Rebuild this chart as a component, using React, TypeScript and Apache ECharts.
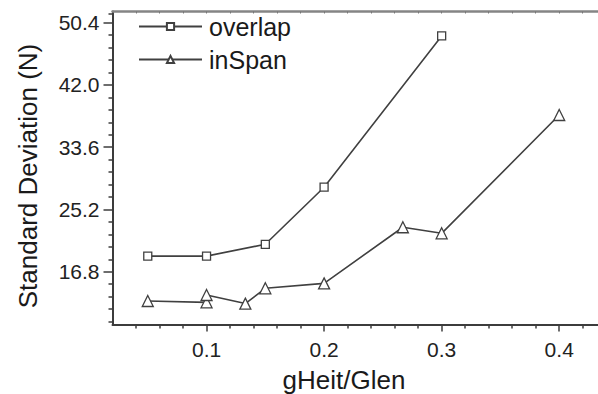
import React, { useEffect, useRef } from "react";
import * as echarts from "echarts";

// Data
const overlapX = [0.05, 0.1, 0.15, 0.2, 0.3];
const overlapY = [18.9, 18.9, 20.5, 28.2, 48.6];

const inSpanX = [0.05, 0.1, 0.1, 0.133, 0.15, 0.2, 0.267, 0.3, 0.4];
const inSpanY = [12.85, 12.67, 13.66, 12.5, 14.56, 15.23, 22.8, 21.98, 37.94];

const seriesNames = ["overlap", "inSpan"];

// Axis ticks
const yMajorTicks = [16.8, 25.2, 33.6, 42.0, 50.4];
const yMinorTicks = [
  10.08, 11.76, 13.44, 15.12,
  18.48, 20.16, 21.84, 23.52,
  26.88, 28.56, 30.24, 31.92,
  35.28, 36.96, 38.64, 40.32,
  43.68, 45.36, 47.04, 48.72,
  51.66,
];
const xMajorTicks = [0.1, 0.2, 0.3, 0.4];
const xMinorTicks = [
  0.04, 0.06, 0.08,
  0.12, 0.14, 0.16, 0.18,
  0.22, 0.24, 0.26, 0.28,
  0.32, 0.34, 0.36, 0.38,
  0.42,
];

const xTitle = "gHeit/Glen";
const yTitle = "Standard Deviation (N)";

const X_MIN = 0.02;
const X_MAX = 0.433;
const Y_MIN = 9.68;
const Y_MAX = 51.9;

const FONT = "'Liberation Sans', Arial, sans-serif";
const AXIS_COLOR = "#3c3c3c";
const LINE_COLOR = "#404040";

export default function App() {
  const ref = useRef<HTMLDivElement>(null);

  useEffect(() => {
    if (!ref.current) return;
    const chart = echarts.init(ref.current, null, { renderer: "svg" });

    const pairs = (xs: number[], ys: number[]) => xs.map((x, i) => [x, ys[i]]);

    const option: any = {
      animation: false,
      backgroundColor: "#ffffff",
      textStyle: { fontFamily: FONT },
      grid: { left: 112.5, right: 0, top: 11.5, bottom: 69.5, containLabel: false },
      legend: {
        orient: "vertical",
        left: 138,
        top: 14,
        padding: 0,
        itemWidth: 63,
        itemHeight: 9,
        itemGap: 8,
        data: seriesNames,
        textStyle: { fontSize: 25, color: "#1a1a1a", fontFamily: FONT, padding: [0, 0, 0, 2] },
      },
      xAxis: [
        {
          type: "value",
          position: "bottom",
          min: X_MIN,
          max: X_MAX,
          axisLine: { show: true, onZero: false, lineStyle: { color: AXIS_COLOR, width: 2 } },
          axisTick: {
            show: true,
            inside: false,
            length: 7,
            customValues: xMajorTicks,
            lineStyle: { color: AXIS_COLOR, width: 1.5 },
          },
          axisLabel: {
            show: true,
            customValues: xMajorTicks,
            margin: 14,
            fontSize: 21,
            color: "#222",
            fontFamily: FONT,
            formatter: (v: number) => String(v),
          },
          splitLine: { show: false },
        },
        {
          type: "value",
          position: "bottom",
          min: X_MIN,
          max: X_MAX,
          axisLine: { show: false },
          axisTick: {
            show: true,
            inside: false,
            length: 4,
            customValues: xMinorTicks,
            lineStyle: { color: AXIS_COLOR, width: 1.5 },
          },
          axisLabel: { show: false },
          splitLine: { show: false },
        },
        {
          type: "value",
          position: "top",
          min: X_MIN,
          max: X_MAX,
          axisLine: { show: true, onZero: false, lineStyle: { color: "#858585", width: 2.5 } },
          axisTick: {
            show: true,
            inside: true,
            length: 2,
            customValues: [...xMinorTicks, ...xMajorTicks],
            lineStyle: { color: "#777", width: 1 },
          },
          axisLabel: { show: false },
          splitLine: { show: false },
        },
      ],
      yAxis: [
        {
          type: "value",
          position: "left",
          min: Y_MIN,
          max: Y_MAX,
          axisLine: { show: true, onZero: false, lineStyle: { color: AXIS_COLOR, width: 2 } },
          axisTick: {
            show: true,
            inside: false,
            length: 9,
            customValues: yMajorTicks,
            lineStyle: { color: AXIS_COLOR, width: 1.5 },
          },
          axisLabel: {
            show: true,
            customValues: yMajorTicks,
            margin: 13,
            fontSize: 21,
            color: "#222",
            fontFamily: FONT,
            formatter: (v: number) => v.toFixed(1),
          },
          splitLine: { show: false },
        },
        {
          type: "value",
          position: "left",
          min: Y_MIN,
          max: Y_MAX,
          axisLine: { show: false },
          axisTick: {
            show: true,
            inside: false,
            length: 4,
            customValues: yMinorTicks,
            lineStyle: { color: AXIS_COLOR, width: 1.5 },
          },
          axisLabel: { show: false },
          splitLine: { show: false },
        },
      ],
      graphic: [
        {
          type: "text",
          x: 344,
          y: 380,
          style: {
            text: xTitle,
            fontSize: 26,
            fontFamily: FONT,
            fill: "#1a1a1a",
            align: "center",
            verticalAlign: "middle",
          },
        },
        {
          type: "text",
          x: 28,
          y: 176,
          rotation: Math.PI / 2,
          style: {
            text: yTitle,
            fontSize: 26,
            fontFamily: FONT,
            fill: "#1a1a1a",
            align: "center",
            verticalAlign: "middle",
          },
        },
      ],
      series: [
        {
          name: seriesNames[0],
          type: "line",
          xAxisIndex: 0,
          yAxisIndex: 0,
          data: pairs(overlapX, overlapY),
          symbol: "rect",
          symbolSize: 8,
          showAllSymbol: true,
          itemStyle: { color: "#ffffff", borderColor: LINE_COLOR, borderWidth: 1.3 },
          lineStyle: { color: LINE_COLOR, width: 1.6 },
          emphasis: { disabled: true },
        },
        {
          name: seriesNames[1],
          type: "line",
          xAxisIndex: 0,
          yAxisIndex: 0,
          data: pairs(inSpanX, inSpanY),
          symbol: "triangle",
          symbolSize: 11,
          showAllSymbol: true,
          itemStyle: { color: "#ffffff", borderColor: LINE_COLOR, borderWidth: 1.3 },
          lineStyle: { color: LINE_COLOR, width: 1.6 },
          emphasis: { disabled: true },
        },
      ],
    };

    chart.setOption(option);
    return () => chart.dispose();
  }, []);

  return (
    <div
      ref={ref}
      style={{ position: "fixed", left: 0, top: 0, width: 598, height: 394, background: "#fff" }}
    />
  );
}
